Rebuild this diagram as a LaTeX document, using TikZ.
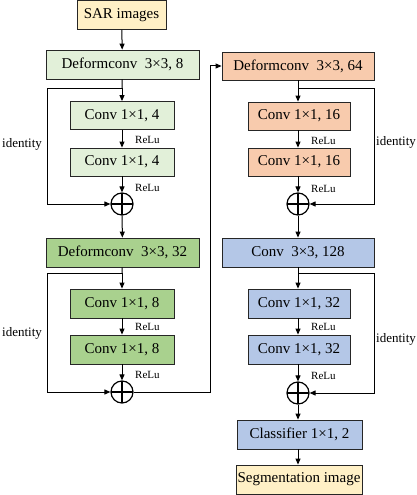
\documentclass[tikz,border=0pt]{standalone}
\usepackage{fontspec}
\setmainfont{Liberation Serif}
\usetikzlibrary{arrows.meta}

\definecolor{inyellow}{HTML}{FFF0C6}
\definecolor{lightgreen}{HTML}{E2F0D9}
\definecolor{midgreen}{HTML}{A9D18E}
\definecolor{lightorange}{HTML}{F8CBAD}
\definecolor{lightblue}{HTML}{B4C7E7}

\tikzset{
    blk/.style={draw=black!85, line width=0.8pt, inner sep=0pt, minimum height=28pt, font=\fontsize{15}{18}\selectfont},
    relu/.style={font=\fontsize{11}{13}\selectfont, inner sep=0pt, anchor=west},
    idt/.style={font=\fontsize{13}{15}\selectfont, inner sep=0pt},
    sumnode/.style={circle, draw, line width=1.2pt, minimum size=22pt, inner sep=0pt,
        path picture={\draw[line width=1.2pt] (path picture bounding box.north) -- (path picture bounding box.south)
            (path picture bounding box.west) -- (path picture bounding box.east);}},
    flow/.style={line width=1pt, -{Triangle[length=6pt,width=5pt]}},
    wire/.style={line width=1pt},
}

\begin{document}
\begin{tikzpicture}[x=1pt,y=-1pt]
        \useasboundingbox (0,0) rectangle (416,495);

        % left column
        \node[blk, fill=inyellow, minimum width=89pt, minimum height=29pt] (sar) at (121.5, 15) {SAR images};
        \node[blk, fill=lightgreen, minimum width=153pt, minimum height=29pt] (dc8) at (122.5, 64.5) {Deformconv\ \ 3×3, 8};
        \node[blk, fill=lightgreen, minimum width=104pt] (c4a) at (122, 115.5) {Conv 1×1, 4};
        \node[blk, fill=lightgreen, minimum width=104pt] (c4b) at (122, 162) {Conv 1×1, 4};
        \node[sumnode] (sum1) at (122, 204) {};

        \node[blk, fill=midgreen, minimum width=153pt, minimum height=29pt] (dc32) at (122.5, 252.5) {Deformconv\ \ 3×3, 32};
        \node[blk, fill=midgreen, minimum width=104pt, minimum height=29pt] (c8a) at (122, 303.5) {Conv 1×1, 8};
        \node[blk, fill=midgreen, minimum width=104pt, minimum height=29pt] (c8b) at (122, 349.5) {Conv 1×1, 8};
        \node[sumnode] (sum2) at (122, 392) {};

        % right column
        \node[blk, fill=lightorange, minimum width=152pt] (dc64) at (298, 66) {Deformconv\ \ 3×3, 64};
        \node[blk, fill=lightorange, minimum width=102pt] (c16a) at (299, 116) {Conv 1×1, 16};
        \node[blk, fill=lightorange, minimum width=102pt] (c16b) at (299, 162) {Conv 1×1, 16};
        \node[sumnode] (sum3) at (298, 204) {};

        \node[blk, fill=lightblue, minimum width=152pt, minimum height=29pt] (c128) at (298, 252.5) {Conv\ \ 3×3, 128};
        \node[blk, fill=lightblue, minimum width=102pt, minimum height=29pt] (c32a) at (299, 303.5) {Conv 1×1, 32};
        \node[blk, fill=lightblue, minimum width=102pt, minimum height=29pt] (c32b) at (299, 349.5) {Conv 1×1, 32};
        \node[sumnode] (sum4) at (298, 393) {};
        \node[blk, fill=lightblue, minimum width=125pt, minimum height=29pt] (cls) at (299.5, 434.5) {Classifier 1×1, 2};
        \node[blk, fill=inyellow, minimum width=126pt, minimum height=29pt] (seg) at (299, 479.5) {Segmentation image};

        % labels
        \node[relu] (r1) at (135, 140) {ReLu};
        \node[relu] (r2) at (135, 188) {ReLu};
        \node[relu] (r3) at (135, 327) {ReLu};
        \node[relu] (r4) at (135, 375) {ReLu};
        \node[relu] (r5) at (311, 141) {ReLu};
        \node[relu] (r6) at (311, 189) {ReLu};
        \node[relu] (r7) at (311, 327) {ReLu};
        \node[relu] (r8) at (311, 376) {ReLu};
        \node[idt] (id1) at (22, 144) {identity};
        \node[idt] (id2) at (22, 333) {identity};
        \node[idt] (id3) at (396, 142) {identity};
        \node[idt] (id4) at (396, 339) {identity};

        % skip points
        \coordinate (j1) at (122, 88);
        \coordinate (k1) at (47, 88);
        \coordinate (j2) at (122, 273);
        \coordinate (k2) at (47, 273);
        \coordinate (j3) at (298, 88);
        \coordinate (k3) at (374, 88);
        \coordinate (j4) at (298, 273);
        \coordinate (k4) at (374, 273);
        \coordinate (up) at (210, 392);

        % flow
        \draw[flow] (sar) -- (dc8);
        \draw[wire] (dc8) -- (j1);
        \draw[flow] (j1) -- (c4a);
        \draw[flow] (j1) -- (k1) |- (sum1);
        \draw[flow] (c4a) -- (c4b);
        \draw[flow] (c4b) -- (sum1);
        \draw[flow] (sum1) -- (dc32);

        \draw[wire] (dc32) -- (j2);
        \draw[flow] (j2) -- (c8a);
        \draw[flow] (j2) -- (k2) |- (sum2);
        \draw[flow] (c8a) -- (c8b);
        \draw[flow] (c8b) -- (sum2);
        \draw[flow] (sum2) -- (up) |- (dc64);

        \draw[wire] (dc64.south -| j3) -- (j3);
        \draw[flow] (j3) -- (c16a.north -| j3);
        \draw[flow] (j3) -- (k3) |- (sum3);
        \draw[flow] (c16a.south -| j3) -- (c16b.north -| j3);
        \draw[flow] (c16b.south -| j3) -- (sum3);
        \draw[flow] (sum3) -- (c128);

        \draw[wire] (c128) -- (j4);
        \draw[flow] (j4) -- (c32a.north -| j4);
        \draw[flow] (j4) -- (k4) |- (sum4);
        \draw[flow] (c32a.south -| j4) -- (c32b.north -| j4);
        \draw[flow] (c32b.south -| j4) -- (sum4);
        \draw[flow] (sum4) -- (cls.north -| sum4);
        \draw[flow] (cls.south -| sum4) -- (seg.north -| sum4);

    \end{tikzpicture}
\end{document}
